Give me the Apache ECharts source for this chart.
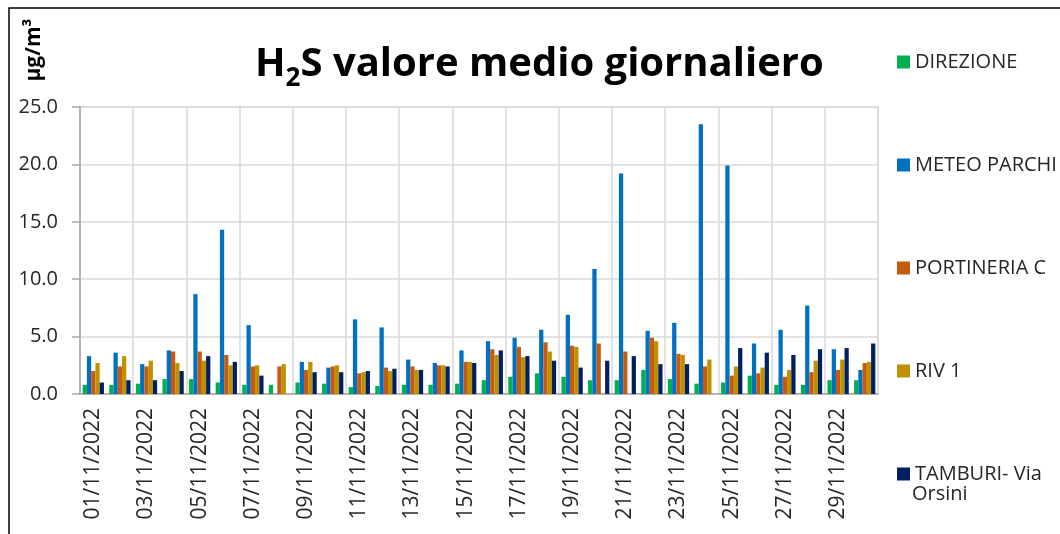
<!DOCTYPE html>
<html>
<head>
<meta charset="utf-8">
<script src="https://cdn.jsdelivr.net/npm/echarts@6/dist/echarts.min.js"></script>
<style>
  html, body { margin: 0; padding: 0; background: #fff; }
  #chart { width: 1060px; height: 534px; }
</style>
</head>
<body>
<div id="chart"></div>
<script>
const days = [
  '01/11/2022', '02/11/2022', '03/11/2022', '04/11/2022', '05/11/2022',
  '06/11/2022', '07/11/2022', '08/11/2022', '09/11/2022', '10/11/2022',
  '11/11/2022', '12/11/2022', '13/11/2022', '14/11/2022', '15/11/2022',
  '16/11/2022', '17/11/2022', '18/11/2022', '19/11/2022', '20/11/2022',
  '21/11/2022', '22/11/2022', '23/11/2022', '24/11/2022', '25/11/2022',
  '26/11/2022', '27/11/2022', '28/11/2022', '29/11/2022', '30/11/2022',
];

const direzione = [0.8, 0.8, 0.9, 1.3, 1.3, 1.0, 0.8, 0.8, 1.0, 0.9, 0.6, 0.7, 0.8, 0.8, 0.9, 1.2, 1.5, 1.8, 1.5, 1.2, 1.2, 2.1, 1.3, 0.9, 1.0, 1.6, 0.8, 0.8, 1.2, 1.2];
const meteoParchi = [3.3, 3.6, 2.6, 3.8, 8.7, 14.3, 6.0, null, 2.8, 2.3, 6.5, 5.8, 3.0, 2.7, 3.8, 4.6, 4.9, 5.6, 6.9, 10.9, 19.2, 5.5, 6.2, 23.5, 19.9, 4.4, 5.6, 7.7, 3.9, 2.1];
const portineriaC = [2.0, 2.4, 2.4, 3.7, 3.7, 3.4, 2.4, 2.4, 2.1, 2.4, 1.8, 2.3, 2.4, 2.5, 2.8, 3.9, 4.1, 4.5, 4.2, 4.4, 3.7, 4.9, 3.5, 2.4, 1.6, 1.8, 1.5, 1.9, 2.1, 2.7];
const riv1 = [2.7, 3.3, 2.9, 2.7, 2.9, 2.5, 2.5, 2.6, 2.8, 2.5, 1.9, 2.0, 2.1, 2.5, 2.8, 3.4, 3.2, 3.7, 4.1, null, null, 4.6, 3.4, 3.0, 2.4, 2.3, 2.1, 2.9, 3.0, 2.8];
const tamburi = [1.0, 1.2, 1.2, 2.0, 3.3, 2.8, 1.6, null, 1.9, 1.9, 2.0, 2.2, 2.1, 2.4, 2.7, 3.8, 3.3, 2.9, 2.3, 2.9, 3.3, 2.6, 2.6, null, 4.0, 3.6, 3.4, 3.9, 4.0, 4.4];

const yTicks = [0, 5, 10, 15, 20, 25];

const stations = [
  { name: 'DIREZIONE', data: direzione, color: '#00b050' },
  { name: 'METEO PARCHI', data: meteoParchi, color: '#0070c0' },
  { name: 'PORTINERIA C', data: portineriaC, color: '#c55a11' },
  { name: 'RIV 1', data: riv1, color: '#bf9000' },
  { name: 'TAMBURI- Via Orsini', data: tamburi, color: '#002060' },
];

const font = '"Open Sans", "Noto Sans", sans-serif';
const chart = echarts.init(document.getElementById('chart'));

const option = {
  animation: false,
  backgroundColor: '#fff',
  textStyle: { fontFamily: font },
  title: {
    left: 250,
    top: 33,
    text: '{a|H}{b|2}{a|S valore medio giornaliero}',
    textStyle: {
      rich: {
        a: { fontFamily: font, fontSize: 40, fontWeight: 'bold', color: '#000' },
        b: { fontFamily: font, fontSize: 26, fontWeight: 'bold', color: '#000', padding: [28, 0, 0, 0] },
      },
    },
  },
  legend: {
    orient: 'vertical',
    left: 892,
    top: 47,
    itemWidth: 13,
    itemHeight: 13,
    itemGap: 83,
    icon: 'rect',
    data: stations.map((s) => s.name),
    formatter: (name) => (name === 'TAMBURI- Via Orsini' ? 'TAMBURI- Via' : name),
    textStyle: { fontFamily: font, fontSize: 20, lineHeight: 20, color: '#262626' },
  },
  grid: {
    left: 80, right: 182, top: 107, bottom: 140,
    show: true, borderColor: '#d9d9d9', borderWidth: 1.5,
  },
  xAxis: {
    type: 'category',
    data: days,
    axisLine: { lineStyle: { color: '#a6a6a6', width: 1.5 } },
    axisTick: { interval: 1, length: 9, lineStyle: { color: '#a6a6a6', width: 1.5 } },
    splitLine: { show: true, interval: 1, lineStyle: { color: '#d9d9d9', width: 1.5 } },
    axisLabel: {
      interval: 1,
      rotate: 90,
      margin: 14,
      fontSize: 21,
      color: '#262626',
      fontFamily: font,
    },
  },
  yAxis: {
    type: 'value',
    min: yTicks[0],
    max: yTicks[yTicks.length - 1],
    interval: 5,
    axisLine: { show: true, lineStyle: { color: '#a6a6a6', width: 1.5 } },
    axisTick: { show: true, length: 8, lineStyle: { color: '#a6a6a6', width: 1.5 } },
    splitLine: { lineStyle: { color: '#d9d9d9', width: 1.5 } },
    axisLabel: {
      margin: 22,
      fontSize: 20,
      color: '#262626',
      fontFamily: font,
      formatter: (v) => v.toFixed(1),
    },
  },
  series: stations.map((s) => ({
    name: s.name,
    type: 'bar',
    data: s.data,
    barGap: '0%',
    barCategoryGap: '20%',
    itemStyle: { color: s.color },
  })),
  graphic: [
    {
      type: 'rect',
      shape: { x: 9, y: 8, width: 1200, height: 700 },
      style: { fill: 'none', stroke: '#000', lineWidth: 1.5 },
      silent: true,
    },
    {
      type: 'text',
      x: 34,
      y: 50,
      rotation: Math.PI / 2,
      style: {
        text: 'µg/m³',
        fontFamily: font,
        fontSize: 21,
        fontWeight: 'bold',
        fill: '#000',
        align: 'center',
        verticalAlign: 'middle',
      },
    },
    {
      type: 'text',
      left: 912,
      top: 484,
      style: { text: 'Orsini', fontFamily: font, fontSize: 20, fill: '#262626' },
    },
  ],
};

chart.setOption(option);
</script>
</body>
</html>
